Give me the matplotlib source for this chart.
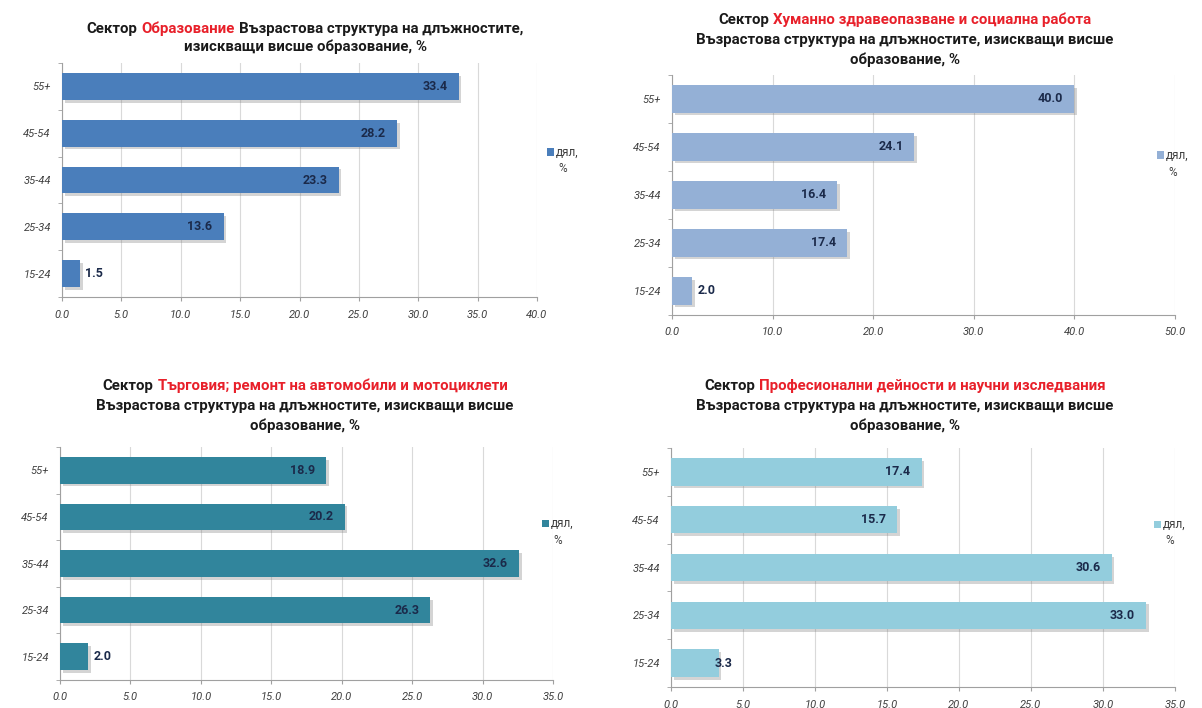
import numpy as np
import matplotlib.pyplot as plt
import matplotlib.patheffects as pe
from matplotlib.patches import Rectangle
from matplotlib.offsetbox import TextArea, HPacker, AnnotationBbox

plt.rcParams['font.family'] = ['Roboto', 'DejaVu Sans']

# age groups, bottom to top as in the source sheet
ages = ['15-24', '25-34', '35-44', '45-54', '55+']

edu = [1.5, 13.6, 23.3, 28.2, 33.4]
health = [2.0, 17.4, 16.4, 24.1, 40.0]
trade = [2.0, 26.3, 32.6, 20.2, 18.9]
prof = [3.3, 33.0, 30.6, 15.7, 17.4]

sectors = ['Образование',
           'Хуманно здравеопазване и социална работа',
           'Търговия; ремонт на автомобили и мотоциклети',
           'Професионални дейности и научни изследвания']

W, H = 1202, 708
fig = plt.figure(figsize=(W / 100, H / 100), dpi=100)
fig.patch.set_facecolor('white')

TXT = '#1a1a1a'
RED = '#e8202a'
LBL = '#1b2a4a'


def px_axes(x0, y0, x1, y1):
    return fig.add_axes([x0 / W, 1 - y1 / H, (x1 - x0) / W, (y1 - y0) / H])


def title_line(cx, cy, parts, size=10.8):
    kids = [TextArea(s, textprops=dict(color=c, fontsize=size, fontweight='bold'))
            for s, c in parts]
    box = HPacker(children=kids, align='baseline', pad=0, sep=3)
    ab = AnnotationBbox(box, (cx / W, 1 - cy / H), xycoords='figure fraction',
                        frameon=False, box_alignment=(0.5, 0.5), pad=0)
    fig.add_artist(ab)


def legend_box(x, y, color):
    fig.add_artist(Rectangle(((x - 3.5) / W, 1 - (y + 3.5) / H), 7 / W, 7 / H,
                             transform=fig.transFigure, facecolor=color,
                             edgecolor='none'))
    fig.text((x + 6) / W, 1 - y / H, 'дял,', fontsize=8.5, color='#404040',
             va='center', ha='left')
    fig.text((x + 13) / W, 1 - (y + 17) / H, '%', fontsize=8.5, color='#404040',
             va='center', ha='center')


def bar_panel(ax, vals, color, xmax, step):
    y = np.arange(len(ages))
    bars = ax.barh(y, vals, height=0.57, color=color, zorder=3)
    for b in bars:
        b.set_path_effects([pe.SimplePatchShadow(offset=(2, -2),
                                                 shadow_rgbFace='0.45', alpha=0.3),
                            pe.Normal()])
    for yi, v in zip(y, vals):
        lab = '%.1f' % v
        if v > 5:
            ax.annotate(lab, (v, yi), xytext=(-8, 0), textcoords='offset points',
                        ha='right', va='center', fontsize=9, fontweight='bold',
                        color=LBL, zorder=4)
        else:
            # short bars: label sits at the end of the bar
            dx = 4 if v < 3 else -3
            ax.annotate(lab, (v, yi), xytext=(dx, 0), textcoords='offset points',
                        ha='left', va='center', fontsize=9, fontweight='bold',
                        color=LBL, zorder=4)
    ax.set_xlim(0, xmax)
    ax.set_ylim(-0.5, len(ages) - 0.5)
    ticks = np.arange(0, xmax + step / 2, step)
    ax.set_xticks(ticks)
    ax.set_xticklabels(['%.1f' % t for t in ticks], fontstyle='italic',
                       fontsize=8, color='#404040')
    ax.set_yticks(y)
    ax.set_yticklabels(ages, fontstyle='italic', fontsize=8, color='#404040')
    ax.set_yticks(np.arange(-0.5, len(ages)), minor=True)
    ax.tick_params(axis='y', which='major', length=0, pad=8)
    ax.tick_params(axis='y', which='minor', length=3, color='#a0a0a0')
    ax.tick_params(axis='x', length=3, color='#a0a0a0', pad=6)
    ax.grid(axis='x', color='#d9d9d9', linewidth=0.8, zorder=0)
    for s in ['top', 'right']:
        ax.spines[s].set_visible(False)
    for s in ['left', 'bottom']:
        ax.spines[s].set_color('#a0a0a0')
        ax.spines[s].set_linewidth(0.8)


ax1 = px_axes(62, 63, 537, 297)
bar_panel(ax1, edu, '#4a7ebb', 40, 5)
ax2 = px_axes(672, 75, 1175, 315)
bar_panel(ax2, health, '#94b0d6', 50, 10)
ax3 = px_axes(60, 447, 553, 680)
bar_panel(ax3, trade, '#31859c', 35, 5)
ax4 = px_axes(671, 448, 1175, 687)
bar_panel(ax4, prof, '#93cddd', 35, 5)

sub = 'Възрастова структура на длъжностите, изискващи висше'

title_line(305, 29, [('Сектор', TXT), (sectors[0], RED),
                     ('Възрастова структура на длъжностите,', TXT)])
title_line(305, 47, [('изискващи висше образование, %', TXT)])

for cx, cy, name in [(905, 20, sectors[1]), (305, 386, sectors[2]),
                     (905, 386, sectors[3])]:
    title_line(cx, cy, [('Сектор', TXT), (name, RED)])
    title_line(cx, cy + 20, [(sub, TXT)])
    title_line(cx, cy + 40, [('образование, %', TXT)])

legend_box(550, 152, '#4a7ebb')
legend_box(1160, 155, '#94b0d6')
legend_box(545, 523, '#31859c')
legend_box(1157, 524, '#93cddd')

fig.savefig('out.png', dpi=100)
